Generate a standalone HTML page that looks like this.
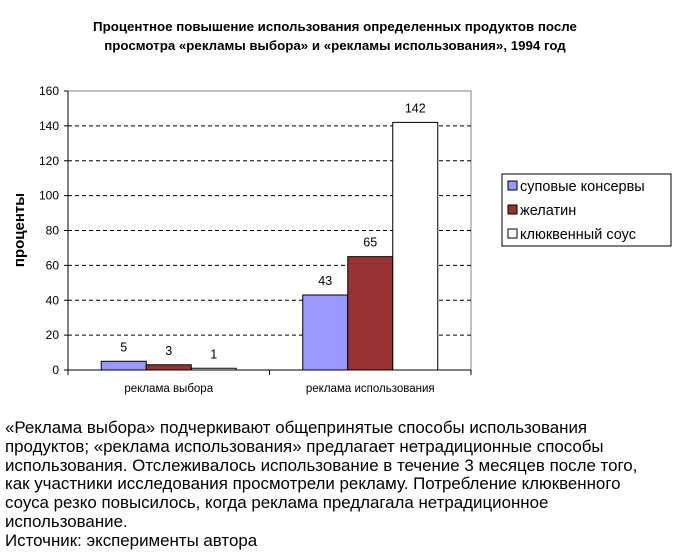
<!DOCTYPE html>
<html><head><meta charset="utf-8"><style>
body{margin:0;background:#fff;width:677px;height:559px;overflow:hidden;font-family:"Liberation Sans",sans-serif}
#cap{position:absolute;left:5px;top:419px;font-size:16.9px;line-height:18.8px;color:#000;width:672px;white-space:nowrap}
</style></head><body>
<svg id="chart" width="677" height="410" style="position:absolute;left:0;top:0" font-family="Liberation Sans, sans-serif"></svg>
<div id="cap">«Реклама выбора» подчеркивают общепринятые способы использования<br>продуктов; «реклама использования» предлагает нетрадиционные способы<br>использования. Отслеживалось использование в течение 3 месяцев после того,<br>как участники исследования просмотрели рекламу. Потребление клюквенного<br>соуса резко повысилось, когда реклама предлагала нетрадиционное<br>использование.<br>Источник: эксперименты автора</div>
<script>
const categories=["реклама выбора","реклама использования"];
const seriesNames=["суповые консервы","желатин","клюквенный соус"];
const soup=[5,43];
const gelatin=[3,65];
const cranberry=[1,142];
const yTicks=[0,20,40,60,80,100,120,140,160];
const colors=["#9999ff","#993333","#ffffff"];
const svg=document.getElementById('chart');
const NS="http://www.w3.org/2000/svg";
const X0=68,X1=471,Y0=370,Y1=91,YMAX=160;
const y=v=>Y0-(v/YMAX)*(Y0-Y1);
const catW=(X1-X0)/categories.length;
const barW=45;
function mk(t,a,txt){const e=document.createElementNS(NS,t);for(const k in a)e.setAttribute(k,a[k]);if(txt!==undefined)e.textContent=txt;svg.appendChild(e);return e;}
let t=mk('text',{x:335,y:31,'text-anchor':'middle','font-size':13.3,'font-weight':'bold'},'Процентное повышение использования определенных продуктов после');


t=mk('text',{x:335,y:50,'text-anchor':'middle','font-size':13.3,'font-weight':'bold'},'просмотра «рекламы выбора» и «рекламы использования», 1994 год');


let pb=mk('rect',{x:X0,y:Y1,width:X1-X0,height:Y0-Y1,fill:'none',stroke:'#808080'});


yTicks.forEach(v=>{
  if(v>0&&v<YMAX){let g=mk('line',{x1:X0,x2:X1,y1:y(v),y2:y(v),stroke:'#000','stroke-dasharray':'4,3'});
  
  }
  let tk=mk('line',{x1:X0-4,x2:X0,y1:y(v),y2:y(v),stroke:'#000'});
  
  
  let l=mk('text',{x:X0-9,y:y(v)+4,'text-anchor':'end','font-size':12},v);
  
  
});
let ax=mk('line',{x1:X0,x2:X0,y1:Y1,y2:Y0,stroke:'#000'});


ax=mk('line',{x1:X0,x2:X1,y1:Y0,y2:Y0,stroke:'#000'});


for(let i=0;i<=categories.length;i++){let tk=mk('line',{x1:X0+i*catW,x2:X0+i*catW,y1:Y0,y2:Y0+5,stroke:'#000'});

}
const all=[soup,gelatin,cranberry];
categories.forEach((c,i)=>{
  const cx=X0+catW*(i+0.5);
  const l=mk('text',{x:cx,y:Y0+22,'text-anchor':'middle','font-size':11.5},c);
  
  
  all.forEach((s,j)=>{
    const bx=cx-1.5*barW+j*barW;
    const r=mk('rect',{x:bx,y:y(s[i]),width:barW,height:Y0-y(s[i]),fill:colors[j],stroke:'#000'});
    
    
    const vl=mk('text',{x:bx+barW/2,y:y(s[i])-10,'text-anchor':'middle','font-size':12.5},s[i]);
    
    
  });
});
let yt=mk('text',{transform:'translate(24,230) rotate(-90)','text-anchor':'middle','font-size':15,'font-weight':'bold'},'проценты');


let lg=mk('rect',{x:502,y:174,width:169,height:72,fill:'#fff',stroke:'#000'});


seriesNames.forEach((n,j)=>{
  const yy=186+j*24;
  const sw=mk('rect',{x:508,y:yy-5,width:9,height:9,fill:colors[j],stroke:'#000'});
  
  
  const tx=mk('text',{x:520,y:yy+5,'font-size':14.5},n);
  
  
});
</script>
</body></html>
